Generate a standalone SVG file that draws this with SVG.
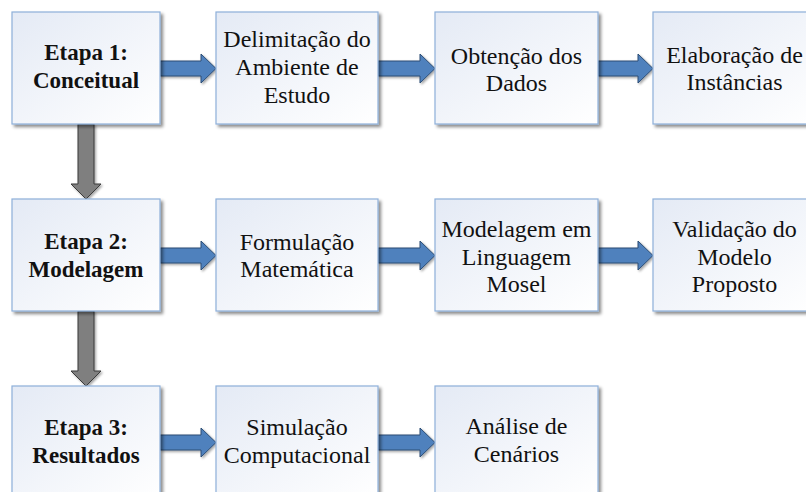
<svg xmlns="http://www.w3.org/2000/svg" width="806" height="492" viewBox="0 0 806 492" font-family="Liberation Serif, Times New Roman, Tinos, DejaVu Serif, Noto Serif, serif">
<defs>
<linearGradient id="boxfill" x1="0" y1="0" x2="1" y2="1">
<stop offset="0" stop-color="#e4eaf5"/>
<stop offset="1" stop-color="#ffffff"/>
</linearGradient>
<filter id="shadow" x="-10%" y="-10%" width="130%" height="130%">
<feDropShadow dx="2.5" dy="2.5" stdDeviation="1.6" flood-color="#000000" flood-opacity="0.45"/>
</filter>
<filter id="ashadow" x="-10%" y="-10%" width="130%" height="130%">
<feDropShadow dx="1.5" dy="1.5" stdDeviation="1" flood-color="#000000" flood-opacity="0.35"/>
</filter>
</defs>
<style>
.box{fill:url(#boxfill);stroke:#8eb0d9;stroke-width:1.2;filter:url(#shadow)}
text{font-family:"Liberation Serif","Times New Roman",Tinos,"DejaVu Serif",serif}
.t{font-size:24px;fill:#111111;text-anchor:middle}
.b{font-weight:bold;font-size:23px}
.ha{fill:#4f81bd;stroke:#2c4d75;stroke-width:1;filter:url(#ashadow)}
.va{fill:#7f7f7f;stroke:#3a3a3a;stroke-width:1;filter:url(#ashadow)}
</style>
<rect width="806" height="492" fill="#ffffff"/>
<g id="connectors">
<polygon class="va" points="78,124 94,124 94,184 101,184 86,199 71,184 78,184"/>
<polygon class="va" points="78,311 94,311 94,371 101,371 86,386 71,371 78,371"/>
<polygon class="ha" points="160,61 201,61 201,54 216,68.5 201,83 201,76 160,76"/>
<polygon class="ha" points="378,61 420,61 420,54 435,68.5 420,83 420,76 378,76"/>
<polygon class="ha" points="598,61 638,61 638,54 653,68.5 638,83 638,76 598,76"/>
<polygon class="ha" points="160,248 201,248 201,241 216,255.5 201,270 201,263 160,263"/>
<polygon class="ha" points="378,248 420,248 420,241 435,255.5 420,270 420,263 378,263"/>
<polygon class="ha" points="598,248 638,248 638,241 653,255.5 638,270 638,263 598,263"/>
<polygon class="ha" points="160,435 201,435 201,428 216,442.5 201,457 201,450 160,450"/>
<polygon class="ha" points="378,435 420,435 420,428 435,442.5 420,457 420,450 378,450"/>
</g>
<g id="etapa1">
<rect class="box" x="12" y="12" width="148" height="112"/>
<text class="t b" x="86" y="60" font-family="Liberation Serif">Etapa 1:</text>
<text class="t b" x="86" y="88" font-family="Liberation Serif">Conceitual</text>
</g>
<g id="delimitacao">
<rect class="box" x="216" y="12" width="162" height="112"/>
<text class="t" x="297" y="47">Delimitação do</text>
<text class="t" x="297" y="75">Ambiente de</text>
<text class="t" x="297" y="103">Estudo</text>
</g>
<g id="obtencao">
<rect class="box" x="435" y="12" width="163" height="112"/>
<text class="t" x="516.5" y="64">Obtenção dos</text>
<text class="t" x="516.5" y="91">Dados</text>
</g>
<g id="elaboracao">
<rect class="box" x="653" y="12" width="163" height="112"/>
<text class="t" x="734.5" y="63">Elaboração de</text>
<text class="t" x="734.5" y="90">Instâncias</text>
</g>
<g id="etapa2">
<rect class="box" x="12" y="199" width="148" height="112"/>
<text class="t b" x="86" y="249">Etapa 2:</text>
<text class="t b" x="86" y="277">Modelagem</text>
</g>
<g id="formulacao">
<rect class="box" x="216" y="199" width="162" height="112"/>
<text class="t" x="297" y="250">Formulação</text>
<text class="t" x="297" y="277">Matemática</text>
</g>
<g id="modelagem">
<rect class="box" x="435" y="199" width="163" height="112"/>
<text class="t" x="516.5" y="237">Modelagem em</text>
<text class="t" x="516.5" y="265">Linguagem</text>
<text class="t" x="516.5" y="292">Mosel</text>
</g>
<g id="validacao">
<rect class="box" x="653" y="199" width="163" height="112"/>
<text class="t" x="734.5" y="237">Validação do</text>
<text class="t" x="734.5" y="265">Modelo</text>
<text class="t" x="734.5" y="292">Proposto</text>
</g>
<g id="etapa3">
<rect class="box" x="12" y="386" width="148" height="112"/>
<text class="t b" x="86" y="435">Etapa 3:</text>
<text class="t b" x="86" y="463">Resultados</text>
</g>
<g id="simulacao">
<rect class="box" x="216" y="386" width="162" height="112"/>
<text class="t" x="297" y="435">Simulação</text>
<text class="t" x="297" y="463">Computacional</text>
</g>
<g id="analise">
<rect class="box" x="435" y="386" width="163" height="112"/>
<text class="t" x="516.5" y="434">Análise de</text>
<text class="t" x="516.5" y="462">Cenários</text>
</g>
</svg>
